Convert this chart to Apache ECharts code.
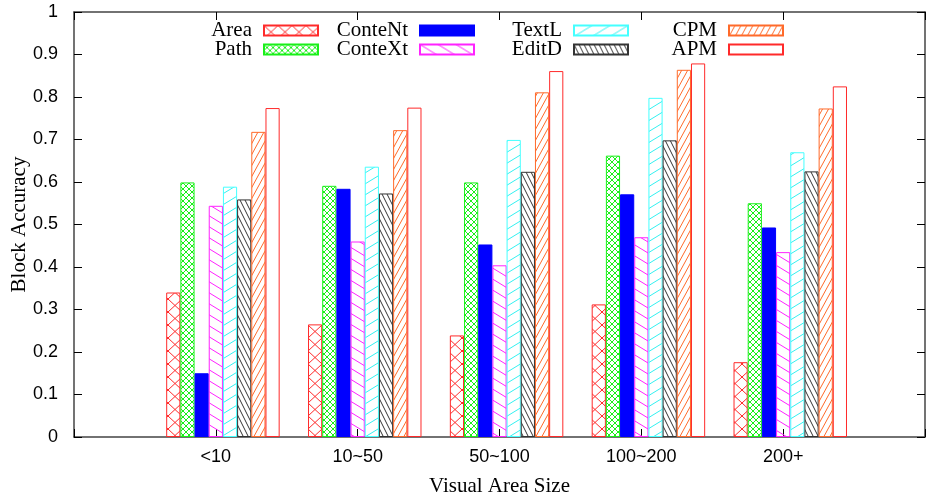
<!DOCTYPE html>
<html>
<head>
<meta charset="utf-8">
<script src="https://cdn.jsdelivr.net/npm/echarts@6/dist/echarts.min.js"></script>
<style>
  html, body { margin: 0; padding: 0; background: #fff; }
  #chart { width: 926px; height: 499px; }
</style>
</head>
<body>
<div id="chart"></div>
<script>
// values
var categories = ['<10', '10~50', '50~100', '100~200', '200+'];
var seriesNames = ['Area', 'Path', 'ConteNt', 'ConteXt', 'TextL', 'EditD', 'CPM', 'APM'];
var area    = [0.340, 0.265, 0.239, 0.312, 0.176];
var path    = [0.599, 0.591, 0.599, 0.662, 0.550];
var conteNt = [0.150, 0.584, 0.453, 0.571, 0.493];
var conteXt = [0.544, 0.460, 0.404, 0.470, 0.435];
var textL   = [0.589, 0.636, 0.699, 0.798, 0.670];
var editD   = [0.559, 0.573, 0.624, 0.698, 0.625];
var cpm     = [0.718, 0.722, 0.811, 0.864, 0.773];
var apm     = [0.774, 0.775, 0.861, 0.879, 0.825];

var chart = echarts.init(document.getElementById('chart'));

// hatch tile for pattern fills
function hatch(w, h, color, dirs, lw) {
    var c = document.createElement('canvas');
    c.width = w;
    c.height = h;
    var g = c.getContext('2d');
    g.strokeStyle = color;
    g.lineWidth = lw || 1;
    dirs.forEach(function (d) {
        for (var k = -1; k <= 1; k++) {
            g.beginPath();
            if (d === '\\') {
                g.moveTo(k * w - w / 2, -h / 2);
                g.lineTo(k * w + w * 1.5, h * 1.5);
            } else {
                g.moveTo(k * w - w / 2, h * 1.5);
                g.lineTo(k * w + w * 1.5, -h / 2);
            }
            g.stroke();
        }
    });
    return { image: c, repeat: 'repeat' };
}

function pad(arr) {
    return ['-'].concat(arr, ['-']);
}

var xData = [''].concat(categories, ['']);

var styles = [
    { color: '#ff2a2a', fill: hatch(14, 13, '#ff2a2a', ['/', '\\']) },
    { color: '#19f019', fill: hatch(6, 6, '#19f019', ['/', '\\']) },
    { color: '#0000ff', fill: '#0000ff' },
    { color: '#ff22ff', fill: hatch(18, 11, '#ff22ff', ['\\']) },
    { color: '#44ffff', fill: hatch(18, 11, '#33f0f0', ['/']) },
    { color: '#333333', fill: hatch(5, 10, '#333333', ['\\']) },
    { color: '#ff6a2a', fill: hatch(6, 11, '#ff6a2a', ['/']) },
    { color: '#ff2a2a', fill: 'rgba(255,255,255,0)' }
];
var values = [area, path, conteNt, conteXt, textL, editD, cpm, apm];

// empty first slot, gnuplot leaves it as the cluster gap
var series = [{
    name: 'gap',
    type: 'bar',
    barWidth: '10%',
    barGap: '0%',
    silent: true,
    data: pad([null, null, null, null, null])
}];
seriesNames.forEach(function (name, i) {
    series.push({
        name: name,
        type: 'bar',
        barWidth: '10%',
        barGap: '0%',
        itemStyle: {
            color: styles[i].fill,
            borderColor: styles[i].color,
            borderWidth: 1
        },
        emphasis: { disabled: true },
        data: pad(values[i])
    });
});

// legend: 4 columns x 2 rows, text left of swatch
var swatchRight = [319, 475, 629, 784];
var rowTop = [20, 39];
var legends = seriesNames.map(function (name, i) {
    var col = Math.floor(i / 2), row = i % 2;
    return {
        data: [name],
        right: 926 - swatchRight[col],
        top: rowTop[row],
        align: 'right',
        padding: 0,
        itemWidth: 54,
        itemHeight: 10,
        icon: 'rect',
        selectedMode: false,
        textStyle: {
            fontFamily: 'Liberation Serif',
            fontSize: 21,
            color: '#000',
            padding: [0, 7, 0, 0]
        }
    };
});

function frameLine() {
    return { show: true, onZero: false, lineStyle: { color: '#444', width: 1.5 } };
}
function tickStyle() {
    return { show: true, inside: true, length: 8, lineStyle: { color: '#000', width: 1 } };
}

var option = {
    animation: false,
    backgroundColor: '#fff',
    grid: { left: 74, right: 1, top: 12, bottom: 62, outerBoundsMode: 'none', containLabel: false },
    legend: legends,
    xAxis: [{
        type: 'category',
        data: xData,
        boundaryGap: false,
        position: 'bottom',
        axisLine: frameLine(),
        axisTick: tickStyle(),
        axisLabel: {
            margin: 11,
            fontFamily: 'Liberation Sans',
            fontSize: 18,
            color: '#000'
        },
        name: 'Visual Area Size',
        nameLocation: 'middle',
        nameGap: 39,
        nameMoveOverlap: false,
        nameTextStyle: { fontFamily: 'Liberation Serif', fontSize: 21, color: '#000' },
        splitLine: { show: false }
    }, {
        type: 'category',
        data: xData,
        position: 'top',
        boundaryGap: false,
        axisLine: frameLine(),
        axisTick: tickStyle(),
        axisLabel: { show: false },
        splitLine: { show: false }
    }],
    yAxis: [{
        type: 'value',
        min: 0,
        max: 1,
        interval: 0.1,
        position: 'left',
        axisLine: frameLine(),
        axisTick: tickStyle(),
        axisLabel: {
            margin: 16,
            fontFamily: 'Liberation Sans',
            fontSize: 18,
            color: '#000'
        },
        name: 'Block Accuracy',
        nameLocation: 'middle',
        nameGap: 44,
        nameMoveOverlap: false,
        nameTextStyle: { fontFamily: 'Liberation Serif', fontSize: 21, color: '#000' },
        splitLine: { show: false }
    }, {
        type: 'value',
        min: 0,
        max: 1,
        interval: 0.1,
        position: 'right',
        axisLine: frameLine(),
        axisTick: tickStyle(),
        axisLabel: { show: false },
        splitLine: { show: false }
    }],
    series: series
};

chart.setOption(option);
</script>
</body>
</html>
